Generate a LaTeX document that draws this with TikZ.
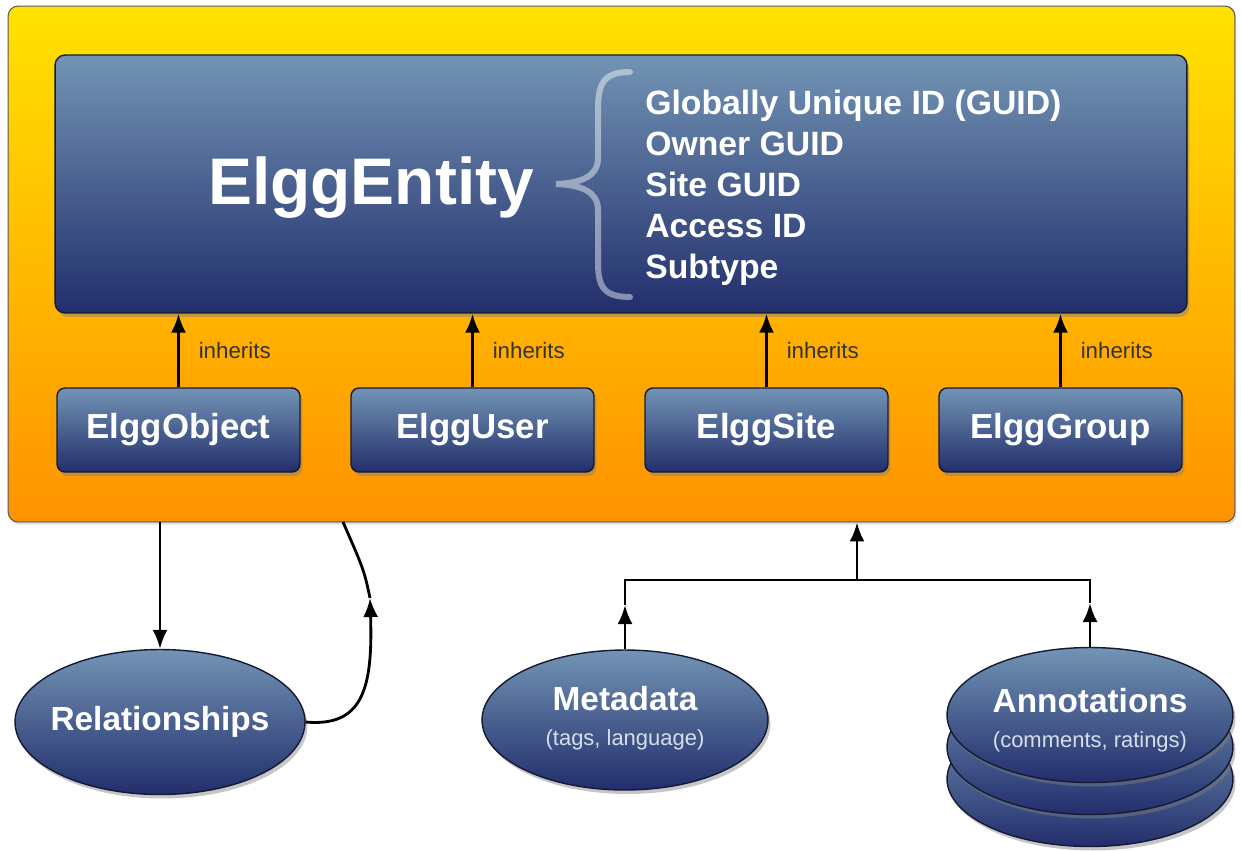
\documentclass[tikz,border=0pt]{standalone}
\usepackage{fontspec}
\setmainfont{Liberation Sans}
\usetikzlibrary{arrows.meta,shapes.geometric,shadows,positioning}

\definecolor{frametop}{RGB}{255,226,0}
\definecolor{framebot}{RGB}{255,146,0}
\definecolor{boxtop}{RGB}{114,148,180}
\definecolor{boxbot}{RGB}{34,46,108}
\definecolor{boxline}{RGB}{20,26,50}
\definecolor{subtext}{RGB}{215,222,235}
\newcommand{\subline}[1]{{\fontsize{12.5}{14}\selectfont\mdseries\color{subtext}#1}}

\tikzset{
  bluebox/.style={draw=boxline, line width=0.8pt, top color=boxtop, bottom color=boxbot, text=white,
    drop shadow={shadow xshift=0.5mm, shadow yshift=-0.8mm, opacity=0.45}},
  classbox/.style={bluebox, rounded corners=0.16cm, minimum width=4.86cm, minimum height=1.68cm,
    font=\fontsize{19.8}{23}\selectfont\bfseries},
  store/.style={bluebox, ellipse, minimum width=5.72cm, minimum height=2.8cm, inner sep=0pt},
  storetext/.style={text=white, align=center, font=\fontsize{19}{20}\selectfont\bfseries},
  link/.style={line width=1.6pt},
  tip/.style={link, -{Latex[length=3.8mm,width=3mm]}},
}

\begin{document}
\begin{tikzpicture}[x=0.02cm,y=-0.02cm]
		%%%%% START %%%%%
		\useasboundingbox (0,0) rectangle (1241,850);
		
		\node[draw=black!65, line width=0.6pt, rounded corners=0.2cm, top color=frametop, bottom color=framebot,
		  minimum width=24.54cm, minimum height=10.32cm,
		  drop shadow={shadow xshift=0.3mm, shadow yshift=-0.5mm, opacity=0.3}] (frame) at (621.5,264) {};
		
		\node[bluebox, rounded corners=0.2cm, minimum width=22.64cm, minimum height=5.16cm] (entity) at (621,184) {};
		\node[text=white, font=\fontsize{37.5}{40}\selectfont\bfseries] (name) at (371,188) {ElggEntity};
		
		\draw[white, opacity=0.45, line width=0.12cm, line cap=round] (630,72) .. controls (603,72) and (598,84) .. (598,110)
		  -- (598,158) .. controls (598,176) and (582,183) .. (556,184) .. controls (582,185) and (598,192) .. (598,210)
		  -- (598,262) .. controls (598,286) and (603,297) .. (630,297);
		
		\node[text=white, anchor=west, align=left, inner sep=0pt, font=\fontsize{19.2}{23.3}\selectfont\bfseries] (attrs) at (645,188)
		  {Globally Unique ID (GUID)\\Owner GUID\\Site GUID\\Access ID\\Subtype};
		
		\foreach \n/\t/\x in {obj/ElggObject/178.5, user/ElggUser/472.5, site/ElggSite/766.5, group/ElggGroup/1060.5} {
		  \node[classbox] (\n) at (\x,430) {\t};
		  \draw[tip] (\n.north) -- (\n.north |- entity.south)
		    node[midway, right=0.26cm, text=black!80, font=\fontsize{12.7}{14}\selectfont] {inherits};
		}
		
		\node[store, minimum width=5.8cm, minimum height=2.9cm] (rel) at (160,722) {};
		\node[storetext] (reltext) at (rel.center) {Relationships};
		
		\node[store] (meta) at (625,720) {};
		\node[storetext] (metatext) at ([yshift=0.04cm]meta.center) {Metadata\\\subline{(tags, language)}};
		
		\node[store, minimum height=2.7cm] (ann3) at (1090,779) {};
		\node[store, minimum height=2.7cm] (ann2) at (1090,747) {};
		\node[store, minimum height=2.7cm] (ann) at (1090,715) {};
		\node[storetext] (anntext) at ([yshift=-0.1cm]ann.center) {Annotations\\\subline{(comments, ratings)}};
		
		\draw[tip] (frame.south -| rel.north) -- (rel.north);
		
		\coordinate (rtip) at (370,598);
		\coordinate (rtop) at (343,522);
		\draw[tip] (rel.east) .. controls (362,727) and (373,690) .. (rtip);
		\draw[link] (rtip) .. controls (364,570) .. (rtop);
		
		\coordinate (jn) at (857,580);
		\coordinate (mtip) at (625,605);
		\coordinate (atip) at (1090,603);
		\draw[tip] (meta.north) -- (mtip);
		\draw[tip] (ann.north) -- (atip);
		\draw[link] (mtip) -- (mtip |- jn) -- (atip |- jn) -- (atip);
		\draw[tip] (jn) -- (jn |- frame.south);
		
		%%%%% END %%%%%
	\end{tikzpicture}
\end{document}
